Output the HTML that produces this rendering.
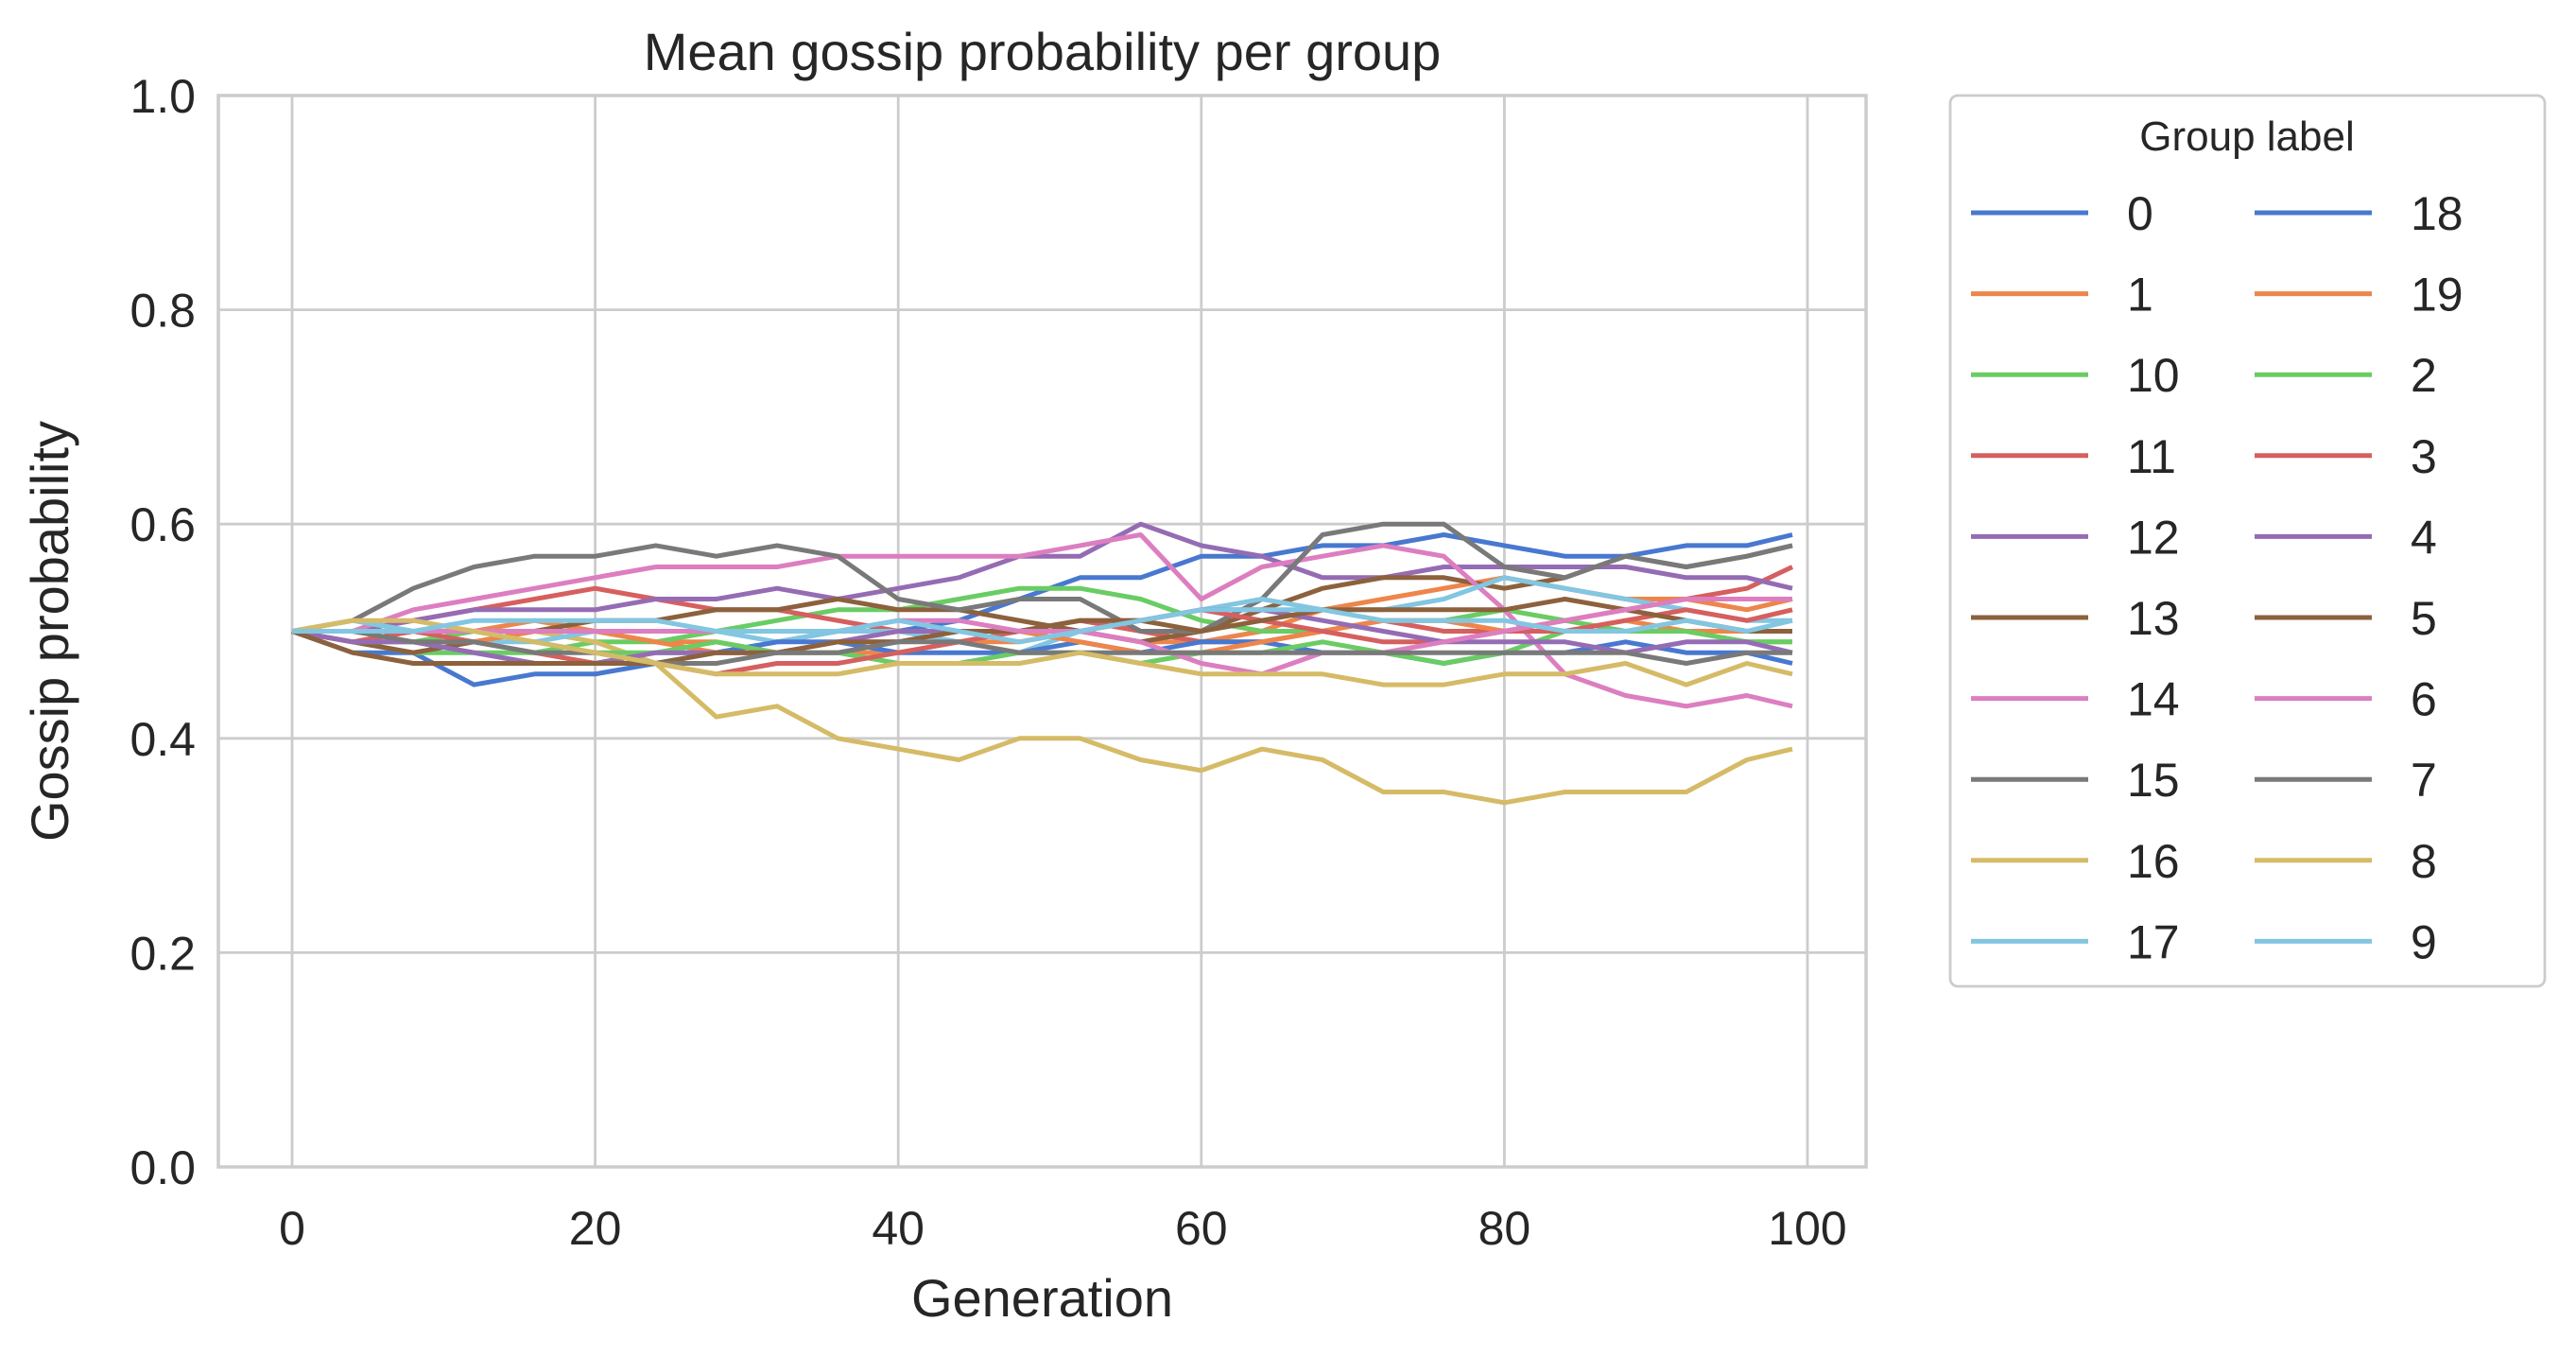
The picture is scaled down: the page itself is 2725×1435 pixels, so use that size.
<!DOCTYPE html>
<html><head><meta charset="utf-8">
<style>
body{margin:0;background:#fff;}
svg{display:block;font-family:"Liberation Sans","DejaVu Sans",sans-serif;}
</style></head>
<body>
<svg id="chart" width="2725" height="1435" viewBox="0 0 2725 1435"></svg>
<script>
const generations=[0,4,8,12,16,20,24,28,32,36,40,44,48,52,56,60,64,68,72,76,80,84,88,92,96,99];
const labels=["0","1","10","11","12","13","14","15","16","17","18","19","2","3","4","5","6","7","8","9"];
const s0 =[0.50,0.48,0.48,0.45,0.46,0.46,0.47,0.48,0.49,0.50,0.50,0.51,0.53,0.55,0.55,0.57,0.57,0.58,0.58,0.59,0.58,0.57,0.57,0.58,0.58,0.59];
const s1 =[0.50,0.49,0.50,0.50,0.51,0.50,0.49,0.49,0.48,0.48,0.48,0.49,0.49,0.50,0.49,0.49,0.50,0.52,0.53,0.54,0.55,0.54,0.53,0.53,0.52,0.53];
const s10=[0.50,0.49,0.48,0.48,0.48,0.49,0.49,0.50,0.51,0.52,0.52,0.53,0.54,0.54,0.53,0.51,0.50,0.50,0.51,0.51,0.52,0.51,0.50,0.50,0.49,0.49];
const s11=[0.50,0.50,0.51,0.52,0.53,0.54,0.53,0.52,0.52,0.51,0.50,0.50,0.50,0.51,0.50,0.49,0.49,0.50,0.51,0.50,0.50,0.51,0.52,0.53,0.54,0.56];
const s12=[0.50,0.50,0.51,0.52,0.52,0.52,0.53,0.53,0.54,0.53,0.54,0.55,0.57,0.57,0.60,0.58,0.57,0.55,0.55,0.56,0.56,0.56,0.56,0.55,0.55,0.54];
const s13=[0.50,0.49,0.48,0.49,0.50,0.51,0.51,0.52,0.52,0.53,0.52,0.52,0.51,0.50,0.49,0.50,0.52,0.54,0.55,0.55,0.54,0.55,0.57,0.56,0.57,0.58];
const s14=[0.50,0.50,0.52,0.53,0.54,0.55,0.56,0.56,0.56,0.57,0.57,0.57,0.57,0.58,0.59,0.53,0.56,0.57,0.58,0.57,0.52,0.46,0.44,0.43,0.44,0.43];
const s15=[0.50,0.51,0.54,0.56,0.57,0.57,0.58,0.57,0.58,0.57,0.53,0.52,0.53,0.53,0.50,0.50,0.53,0.59,0.60,0.60,0.56,0.55,0.57,0.56,0.57,0.58];
const s16=[0.50,0.51,0.50,0.50,0.50,0.49,0.47,0.42,0.43,0.40,0.39,0.38,0.40,0.40,0.38,0.37,0.39,0.38,0.35,0.35,0.34,0.35,0.35,0.35,0.38,0.39];
const s17=[0.50,0.51,0.50,0.49,0.49,0.50,0.50,0.50,0.49,0.50,0.50,0.49,0.48,0.50,0.51,0.52,0.53,0.52,0.52,0.53,0.55,0.54,0.53,0.52,0.51,0.51];
const s18=[0.50,0.49,0.49,0.48,0.47,0.47,0.48,0.48,0.49,0.49,0.48,0.48,0.48,0.49,0.48,0.49,0.49,0.48,0.48,0.47,0.48,0.48,0.49,0.48,0.48,0.47];
const s19=[0.50,0.50,0.49,0.49,0.50,0.50,0.49,0.48,0.48,0.49,0.49,0.50,0.50,0.49,0.48,0.48,0.49,0.50,0.51,0.51,0.50,0.50,0.51,0.50,0.50,0.50];
const s2 =[0.50,0.49,0.49,0.50,0.49,0.48,0.48,0.49,0.48,0.48,0.47,0.47,0.48,0.48,0.47,0.48,0.48,0.49,0.48,0.47,0.48,0.50,0.50,0.50,0.49,0.49];
const s3 =[0.50,0.49,0.50,0.49,0.48,0.47,0.47,0.46,0.47,0.47,0.48,0.49,0.50,0.50,0.51,0.52,0.51,0.50,0.49,0.49,0.50,0.50,0.51,0.52,0.51,0.52];
const s4 =[0.50,0.49,0.49,0.48,0.47,0.47,0.48,0.48,0.48,0.49,0.50,0.50,0.50,0.51,0.51,0.52,0.52,0.51,0.50,0.49,0.49,0.49,0.48,0.49,0.49,0.48];
const s5 =[0.50,0.48,0.47,0.47,0.47,0.47,0.47,0.48,0.48,0.49,0.49,0.50,0.50,0.51,0.51,0.50,0.51,0.52,0.52,0.52,0.52,0.53,0.52,0.51,0.50,0.50];
const s6 =[0.50,0.50,0.50,0.50,0.50,0.50,0.50,0.50,0.50,0.50,0.51,0.51,0.50,0.50,0.49,0.47,0.46,0.48,0.48,0.49,0.50,0.51,0.52,0.53,0.53,0.53];
const s7 =[0.50,0.50,0.49,0.49,0.48,0.48,0.47,0.47,0.48,0.48,0.49,0.49,0.48,0.48,0.48,0.48,0.48,0.48,0.48,0.48,0.48,0.48,0.48,0.47,0.48,0.48];
const s8 =[0.50,0.51,0.51,0.50,0.49,0.48,0.47,0.46,0.46,0.46,0.47,0.47,0.47,0.48,0.47,0.46,0.46,0.46,0.45,0.45,0.46,0.46,0.47,0.45,0.47,0.46];
const s9 =[0.50,0.50,0.50,0.51,0.51,0.51,0.51,0.50,0.50,0.50,0.51,0.50,0.49,0.50,0.51,0.52,0.52,0.52,0.51,0.51,0.51,0.50,0.50,0.51,0.50,0.51];
const seriesList=[s0,s1,s10,s11,s12,s13,s14,s15,s16,s17,s18,s19,s2,s3,s4,s5,s6,s7,s8,s9];
const xTicks=[0,20,40,60,80,100];
const yTicks=[0.0,0.2,0.4,0.6,0.8,1.0];
const palette=["#4878d0","#ee854a","#6acc64","#d65f5f","#956cb4","#8c613c","#dc7ec0","#797979","#d5bb67","#82c6e2"];

const NS="http://www.w3.org/2000/svg";
const svg=document.getElementById('chart');
const L=231,R=1974,T=101,B=1234;
const xS=v=>309+(v/100)*(1912-309);
const yS=v=>B-(v)*(B-T);
function mk(tag,attrs,parent){const e=document.createElementNS(NS,tag);for(const k in attrs)e.setAttribute(k,attrs[k]);(parent||svg).appendChild(e);return e;}

const grid=mk('g',{});


xTicks.forEach(t=>{
  const l=mk('line',{x1:xS(t),x2:xS(t),y1:T,y2:B,stroke:'#cccccc','stroke-width':2.8},grid);
  
  
  const tx=mk('text',{x:xS(t),y:B+82,'text-anchor':'middle','font-size':50,fill:'#262626'});
  tx.textContent=t;
  
  
});
yTicks.forEach(t=>{
  const l=mk('line',{x1:L,x2:R,y1:yS(t),y2:yS(t),stroke:'#cccccc','stroke-width':2.8},grid);
  
  
  const tx=mk('text',{x:L-24,y:yS(t)+18,'text-anchor':'end','font-size':50,fill:'#262626'});
  tx.textContent=t.toFixed(1);
  
  
});
const frame=mk('rect',{x:L,y:T,width:R-L,height:B-T,fill:'none',stroke:'#cccccc','stroke-width':3.5});



seriesList.forEach((s,i)=>{
  const d=s.map((v,j)=>(j?'L':'M')+xS(generations[j]).toFixed(1)+','+yS(v).toFixed(1)).join(' ');
  const p=mk('path',{d:d,fill:'none',stroke:palette[i%10],'stroke-width':5,'stroke-linejoin':'round'});
  
  
});

const title=mk('text',{x:(L+R)/2,y:74,'text-anchor':'middle','font-size':56,fill:'#262626'});
title.textContent='Mean gossip probability per group';


const xt=mk('text',{x:(L+R)/2,y:1392,'text-anchor':'middle','font-size':56,fill:'#262626'});
xt.textContent='Generation';


const yt=mk('text',{x:0,y:0,'text-anchor':'middle','font-size':56,fill:'#262626',transform:'translate(72,'+((T+B)/2)+') rotate(-90)'});
yt.textContent='Gossip probability';



const lg=mk('g',{});


const box=mk('rect',{x:2063,y:101,width:629,height:942,rx:8,fill:'#fff',stroke:'#cccccc','stroke-width':2.8},lg);


const lt=mk('text',{x:2377,y:159,'text-anchor':'middle','font-size':44,fill:'#262626'},lg);
lt.textContent='Group label';


labels.forEach((lab,i)=>{
  const col=Math.floor(i/10),row=i%10;
  const x0=2085+col*300,y0=225+row*85.6;
  const g=mk('g',{},lg);
  
  
  mk('line',{x1:x0,x2:x0+124,y1:y0,y2:y0,stroke:palette[i%10],'stroke-width':5},g);
  const t=mk('text',{x:x0+165,y:y0+18,'font-size':50,fill:'#262626'},g);
  t.textContent=lab;
});
</script>
</body></html>
